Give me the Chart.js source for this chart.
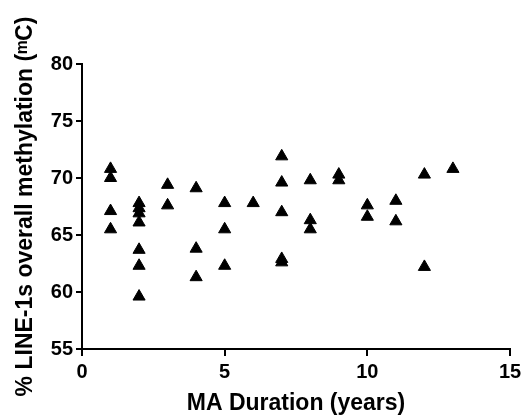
<!DOCTYPE html>
<html>
<head>
<meta charset="utf-8">
<script src="https://cdn.jsdelivr.net/npm/chart.js@4.4.1/dist/chart.umd.min.js"></script>
<style>
  html, body { margin: 0; padding: 0; background: #fff; }
  #wrap { width: 526px; height: 418px; position: relative; }
</style>
</head>
<body>
<div id="wrap"><canvas id="scatterChart"></canvas></div>
<script>
// MA duration (years) and LINE-1 methylation (%) per subject
const durations = [
  1, 1, 1, 1,
  2, 2, 2, 2, 2, 2, 2,
  3, 3,
  4, 4, 4,
  5, 5, 5,
  6,
  7, 7, 7, 7, 7,
  8, 8, 8,
  9, 9,
  10, 10,
  11, 11,
  12, 12,
  13
];
const methylation = [
  70.8, 70.0, 67.1, 65.5,
  67.8, 67.35, 66.9, 66.1, 63.7, 62.3, 59.6,
  69.4, 67.6,
  69.1, 63.8, 61.3,
  67.8, 65.5, 62.3,
  67.8,
  71.9, 69.6, 67.0, 62.9, 62.6,
  69.8, 66.3, 65.5,
  70.3, 69.8,
  67.6, 66.6,
  68.0, 66.2,
  70.3, 62.2,
  70.8
];
const xTicks = [0, 5, 10, 15];
const yTicks = [55, 60, 65, 70, 75, 80];

const xTitle = 'MA Duration (years)';
const yTitle = '% LINE-1s overall methylation (\u1D50C)';

Chart.defaults.font.family = "'Liberation Sans', Arial, sans-serif";
Chart.defaults.color = '#000';

const points = durations.map((d, i) => ({ x: d, y: methylation[i] }));

const ctx = document.getElementById('scatterChart');
new Chart(ctx, {
    type: 'scatter',
    data: {
        datasets: [{
            data: points,
            pointStyle: 'triangle',
            pointRadius: 7,
            pointBackgroundColor: '#000',
            pointBorderColor: '#000',
            pointBorderWidth: 1
        }]
    },
    options: {
        responsive: true,
        maintainAspectRatio: false,
        animation: false,
        layout: { padding: { top: 64, right: 16, left: 0, bottom: 0 } },
        plugins: {
            legend: { display: false },
            tooltip: { enabled: false }
        },
        scales: {
            x: {
                type: 'linear',
                min: xTicks[0],
                max: xTicks[xTicks.length - 1],
                afterBuildTicks: (scale) => { scale.ticks = xTicks.map(v => ({ value: v })); },
                afterFit: (scale) => { scale.height = 69; },
                border: { display: true, color: '#000', width: 2 },
                grid: { display: true, drawOnChartArea: false, drawTicks: true, tickLength: 7, color: '#000', lineWidth: 2 },
                ticks: { font: { size: 20, weight: 'bold' }, padding: 4, maxRotation: 0 },
                title: {
                    display: true,
                    text: xTitle,
                    font: { size: 23, weight: 'bold' },
                    padding: { top: 0, bottom: 1 }
                }
            },
            y: {
                type: 'linear',
                min: yTicks[0],
                max: yTicks[yTicks.length - 1],
                afterBuildTicks: (scale) => { scale.ticks = yTicks.map(v => ({ value: v })); },
                afterFit: (scale) => { scale.width = 82; },
                border: { display: true, color: '#000', width: 2 },
                grid: { display: true, drawOnChartArea: false, drawTicks: true, tickLength: 6, color: '#000', lineWidth: 2 },
                ticks: { font: { size: 20, weight: 'bold' }, padding: 3 },
                title: {
                    display: true,
                    text: yTitle,
                    font: { size: 23, weight: 'bold' },
                    padding: { top: 12, bottom: 0 }
                }
            }
        }
    }
});
</script>
</body>
</html>
